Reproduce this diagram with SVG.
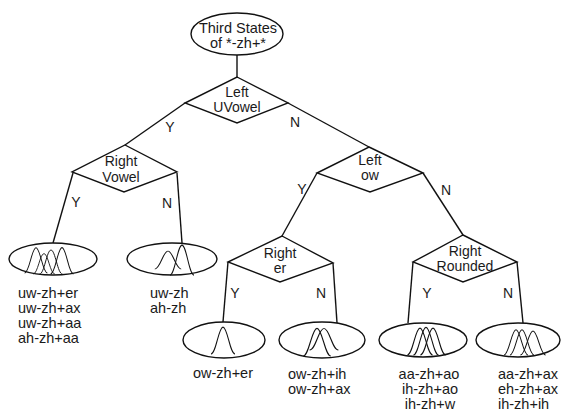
<svg xmlns="http://www.w3.org/2000/svg" xmlns:xlink="http://www.w3.org/1999/xlink" width="562" height="412" viewBox="0 0 562 412">
<style>
.shape{fill:none;stroke:#111;stroke-width:1.4}
.edge{fill:none;stroke:#111;stroke-width:1.4}
.bell{fill:none;stroke:#111;stroke-width:1}
text{font-family:"Liberation Sans",Arial,sans-serif;font-size:14px;fill:#1a1a1a}
.c{text-anchor:middle}
.lf{font-size:14.5px}
</style>
<defs>
<path id="bell" d="M-12,0 C-7,0 -4.5,-24 0,-24 C4.5,-24 7,0 12,0"/>
</defs>
<rect width="562" height="412" fill="#fff"/>
<g id="connectors">
<line class="edge" x1="237" y1="55" x2="237" y2="77"/>
<line class="edge" x1="185" y1="103" x2="125" y2="145"/>
<line class="edge" x1="288" y1="103" x2="369" y2="147"/>
<line class="edge" x1="73" y1="173" x2="53" y2="243"/>
<line class="edge" x1="177" y1="173" x2="182" y2="243"/>
<line class="edge" x1="317" y1="173" x2="282" y2="236"/>
<line class="edge" x1="423" y1="173" x2="463" y2="235"/>
<line class="edge" x1="228" y1="262" x2="223" y2="322"/>
<line class="edge" x1="333" y1="263" x2="337" y2="323"/>
<line class="edge" x1="413" y1="262" x2="408" y2="323"/>
<line class="edge" x1="517" y1="262" x2="523" y2="323"/>
<text class="c" x="170" y="132">Y</text>
<text class="c" x="295" y="127">N</text>
<text class="c" x="76" y="207">Y</text>
<text class="c" x="167" y="208">N</text>
<text class="c" x="302" y="194">Y</text>
<text class="c" x="446" y="195">N</text>
<text class="c" x="235" y="298">Y</text>
<text class="c" x="321" y="298">N</text>
<text class="c" x="427" y="298">Y</text>
<text class="c" x="508" y="298">N</text>
</g>
<g id="root">
<ellipse class="shape" cx="237" cy="34" rx="46" ry="21"/>
<text class="c" x="238" y="33" style="font-size:14.5px">Third States</text>
<text class="c" x="238" y="48" style="font-size:14.5px">of *-zh+*</text>
</g>
<g id="left-uvowel">
<polygon class="shape" points="237,77 288,103 237,123 185,103"/>
<text class="c" x="237" y="97">Left</text>
<text class="c" x="237" y="112">UVowel</text>
</g>
<g id="right-vowel">
<polygon class="shape" points="125,145 177,172 124,192 72,172"/>
<text class="c" x="121" y="166">Right</text>
<text class="c" x="121" y="182">Vowel</text>
</g>
<g id="left-ow">
<polygon class="shape" points="369,147 423,173 370,192 317,173"/>
<text class="c" x="370" y="165">Left</text>
<text class="c" x="370" y="180">ow</text>
</g>
<g id="right-er">
<polygon class="shape" points="282,236 333,263 280,282 228,262"/>
<text class="c" x="280" y="258">Right</text>
<text class="c" x="280" y="273">er</text>
</g>
<g id="right-rounded">
<polygon class="shape" points="463,235 517,262 463,282 413,262"/>
<text class="c" x="465" y="256">Right</text>
<text class="c" x="465" y="271">Rounded</text>
</g>
<g id="leaf-uw-zh-plus">
<ellipse class="shape" cx="53" cy="259" rx="44" ry="16"/>
<use class="bell" xlink:href="#bell" href="#bell" transform="translate(36,273) scale(0.95,1.05)"/>
<use class="bell" xlink:href="#bell" href="#bell" transform="translate(44,274) scale(0.9,0.85)"/>
<use class="bell" xlink:href="#bell" href="#bell" transform="translate(51,274) scale(0.95,1.0)"/>
<use class="bell" xlink:href="#bell" href="#bell" transform="translate(62,274) scale(0.95,1.1)"/>
<text class="lf" x="18" y="298">uw-zh+er</text>
<text class="lf" x="18" y="313">uw-zh+ax</text>
<text class="lf" x="18" y="328">uw-zh+aa</text>
<text class="lf" x="18" y="343">ah-zh+aa</text>
</g>
<g id="leaf-uw-zh">
<ellipse class="shape" cx="172" cy="259" rx="45" ry="16"/>
<use class="bell" xlink:href="#bell" href="#bell" transform="translate(168,269) scale(1.1,0.75)"/>
<use class="bell" xlink:href="#bell" href="#bell" transform="translate(182,275) scale(1.0,1.25)"/>
<text class="lf" x="150" y="298">uw-zh</text>
<text class="lf" x="150" y="313">ah-zh</text>
</g>
<g id="leaf-ow-zh-er">
<ellipse class="shape" cx="224" cy="340" rx="41" ry="18"/>
<use class="bell" xlink:href="#bell" href="#bell" transform="translate(223,354) scale(1.0,1.12)"/>
<text class="c lf" x="223" y="378">ow-zh+er</text>
</g>
<g id="leaf-ow-zh-ih">
<ellipse class="shape" cx="322" cy="340" rx="43" ry="18"/>
<use class="bell" xlink:href="#bell" href="#bell" transform="translate(317,356) scale(1.15,1.15)"/>
<use class="bell" xlink:href="#bell" href="#bell" transform="translate(324,350) scale(1.2,0.9)"/>
<text class="lf" x="288" y="379">ow-zh+ih</text>
<text class="lf" x="288" y="394">ow-zh+ax</text>
</g>
<g id="leaf-aa-zh-ao">
<ellipse class="shape" cx="423" cy="340" rx="44" ry="17"/>
<use class="bell" xlink:href="#bell" href="#bell" transform="translate(420,355) scale(1.05,1.12)"/>
<use class="bell" xlink:href="#bell" href="#bell" transform="translate(426,355) scale(1.05,1.15)"/>
<use class="bell" xlink:href="#bell" href="#bell" transform="translate(433,355) scale(1.05,1.12)"/>
<text class="c lf" x="429" y="379">aa-zh+ao</text>
<text class="c lf" x="430" y="394">ih-zh+ao</text>
<text class="c lf" x="430" y="409">ih-zh+w</text>
</g>
<g id="leaf-aa-zh-ax">
<ellipse class="shape" cx="518" cy="340" rx="42" ry="17"/>
<use class="bell" xlink:href="#bell" href="#bell" transform="translate(516,355) scale(1.0,1.05)"/>
<use class="bell" xlink:href="#bell" href="#bell" transform="translate(522,355) scale(1.0,1.05)"/>
<use class="bell" xlink:href="#bell" href="#bell" transform="translate(533,355) scale(1.05,1.0)"/>
<text class="lf" x="498" y="379">aa-zh+ax</text>
<text class="lf" x="498" y="394">eh-zh+ax</text>
<text class="lf" x="498" y="409">ih-zh+ih</text>
</g>
</svg>
